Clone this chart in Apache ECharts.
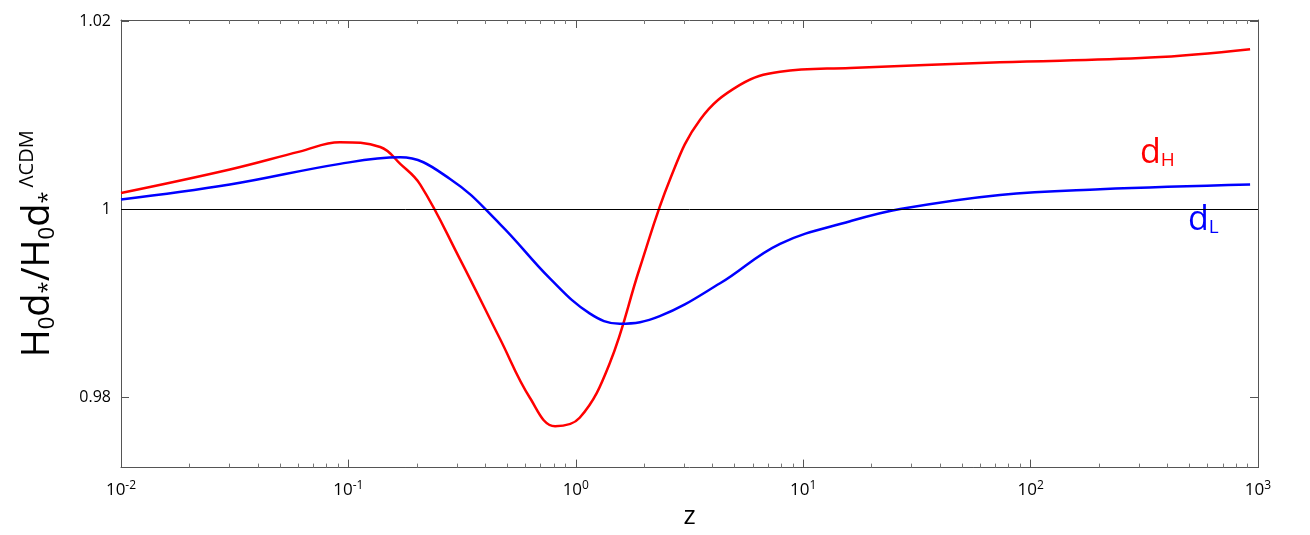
<!DOCTYPE html>
<html>
<head>
<meta charset="utf-8">
<script src="https://cdn.jsdelivr.net/npm/echarts@6/dist/echarts.min.js"></script>
<style>html,body{margin:0;background:#fff}#chart{width:1310px;height:535px}</style>
</head>
<body>
<div id="chart"></div>
<script>
var zRed = [0.01, 0.0301, 0.061, 0.0918, 0.138, 0.169, 0.207, 0.309, 0.464, 0.629, 0.811, 1.04, 1.41, 1.91, 2.60, 3.52, 5.27, 7.91, 16.1, 73.3, 335, 923];
var dH = [1.0017, 1.0042, 1.0061, 1.0071, 1.0066, 1.0048, 1.0026, 0.9947, 0.9862, 0.9799, 0.9769, 0.9778, 0.9836, 0.9937, 1.0032, 1.0095, 1.0132, 1.0146, 1.0150, 1.0156, 1.0161, 1.0170];
var zBlue = [0.01, 0.0301, 0.0918, 0.169, 0.280, 0.464, 0.771, 1.15, 1.56, 2.34, 4.31, 7.91, 16.1, 26.7, 73.3, 202, 923];
var dL = [1.0010, 1.0026, 1.0048, 1.0055, 1.0032, 0.9984, 0.9926, 0.9889, 0.9878, 0.9886, 0.9921, 0.9963, 0.9987, 1.0000, 1.0015, 1.0021, 1.0026];
var yTicks = [0.98, 1, 1.02];

function pairs(xs, ys) {
  return xs.map(function (x, i) { return [x, ys[i]]; });
}

var myChart = echarts.init(document.getElementById('chart'));
var sup = { fontSize: 12, verticalAlign: 'top', padding: [0, 0, 10, 0], color: '#000' };
var option = {
  animation: false,
  grid: { left: 121, right: 52, top: 20, bottom: 65 },
  xAxis: [
    {
      type: 'log', min: 0.01, max: 1000, logBase: 10,
      name: 'z', nameLocation: 'middle', nameGap: 30,
      nameTextStyle: { fontSize: 26, color: '#000', fontFamily: 'Open Sans' },
      axisLine: { lineStyle: { color: '#555' } },
      axisTick: { inside: true, length: 8, lineStyle: { color: '#555' } },
      minorTick: { show: true, splitNumber: 9, length: 4, lineStyle: { color: '#777' } },
      splitLine: { show: false },
      axisLabel: {
        fontFamily: 'Open Sans', fontSize: 17, color: '#000', margin: 12,
        formatter: function (v) {
          return '{b|10}{s|' + Math.round(Math.log10(v)) + '}';
        },
        rich: { b: { fontSize: 17, color: '#000' }, s: sup }
      }
    },
    {
      type: 'log', min: 0.01, max: 1000, position: 'top',
      axisLine: { lineStyle: { color: '#555' } },
      axisTick: { inside: true, length: 8, lineStyle: { color: '#555' } },
      minorTick: { show: true, splitNumber: 9, length: 4, lineStyle: { color: '#777' } },
      axisLabel: { show: false }, splitLine: { show: false }
    }
  ],
  yAxis: [
    {
      type: 'value', min: 0.9725, max: 1.0201,
      axisLine: { show: true, lineStyle: { color: '#555' } },
      axisTick: { show: true, inside: true, length: 8, customValues: yTicks, lineStyle: { color: '#555' } },
      splitLine: { show: false },
      axisLabel: {
        customValues: yTicks, fontFamily: 'Open Sans', fontSize: 16, color: '#000', margin: 10,
        formatter: function (v) { return v === 1 ? '1' : v.toFixed(2); }
      },
      name: '{m|H}{sb|0}{m|d}{sb|*}{m|/H}{sb|0}{m|d}{sb|*}{sp|ΛCDM}',
      nameLocation: 'middle', nameGap: 62, nameRotate: 90,
      nameTextStyle: {
        rich: {
          m: { fontSize: 38, color: '#000', fontFamily: 'Open Sans' },
          sb: { fontSize: 22, color: '#000', verticalAlign: 'bottom', padding: [14, 0, 0, 0], fontFamily: 'Open Sans' },
          sp: { fontSize: 20, color: '#000', verticalAlign: 'top', padding: [0, 0, 22, 4], fontFamily: 'Open Sans' }
        }
      }
    },
    {
      type: 'value', min: 0.9725, max: 1.0201, position: 'right',
      axisLine: { show: true, lineStyle: { color: '#555' } },
      axisTick: { show: true, inside: true, length: 8, customValues: yTicks, lineStyle: { color: '#555' } },
      axisLabel: { show: false, customValues: yTicks }, splitLine: { show: false }
    }
  ],
  series: [
    {
      type: 'line', data: pairs(zRed, dH), smooth: 0.4, showSymbol: false,
      lineStyle: { color: '#ff0000', width: 2.5 },
      markLine: {
        silent: true, symbol: 'none', label: { show: false },
        lineStyle: { color: '#000', width: 1, type: 'solid' },
        data: [{ yAxis: 1 }]
      }
    },
    {
      type: 'line', data: pairs(zBlue, dL), smooth: 0.4, showSymbol: false,
      lineStyle: { color: '#0000ff', width: 2.5 }
    }
  ],
  graphic: [
    {
      type: 'text', left: 1140, top: 136,
      style: {
        text: '{a|d}{b|H}',
        rich: {
          a: { fontSize: 34, fill: '#ff0000', fontFamily: 'Open Sans' },
          b: { fontSize: 19, fill: '#ff0000', verticalAlign: 'bottom', padding: [12, 0, 0, 0], fontFamily: 'Open Sans' }
        }
      }
    },
    {
      type: 'text', left: 1188, top: 203,
      style: {
        text: '{a|d}{b|L}',
        rich: {
          a: { fontSize: 34, fill: '#0000ff', fontFamily: 'Open Sans' },
          b: { fontSize: 19, fill: '#0000ff', verticalAlign: 'bottom', padding: [12, 0, 0, 0], fontFamily: 'Open Sans' }
        }
      }
    }
  ]
};
myChart.setOption(option);
</script>
</body>
</html>
